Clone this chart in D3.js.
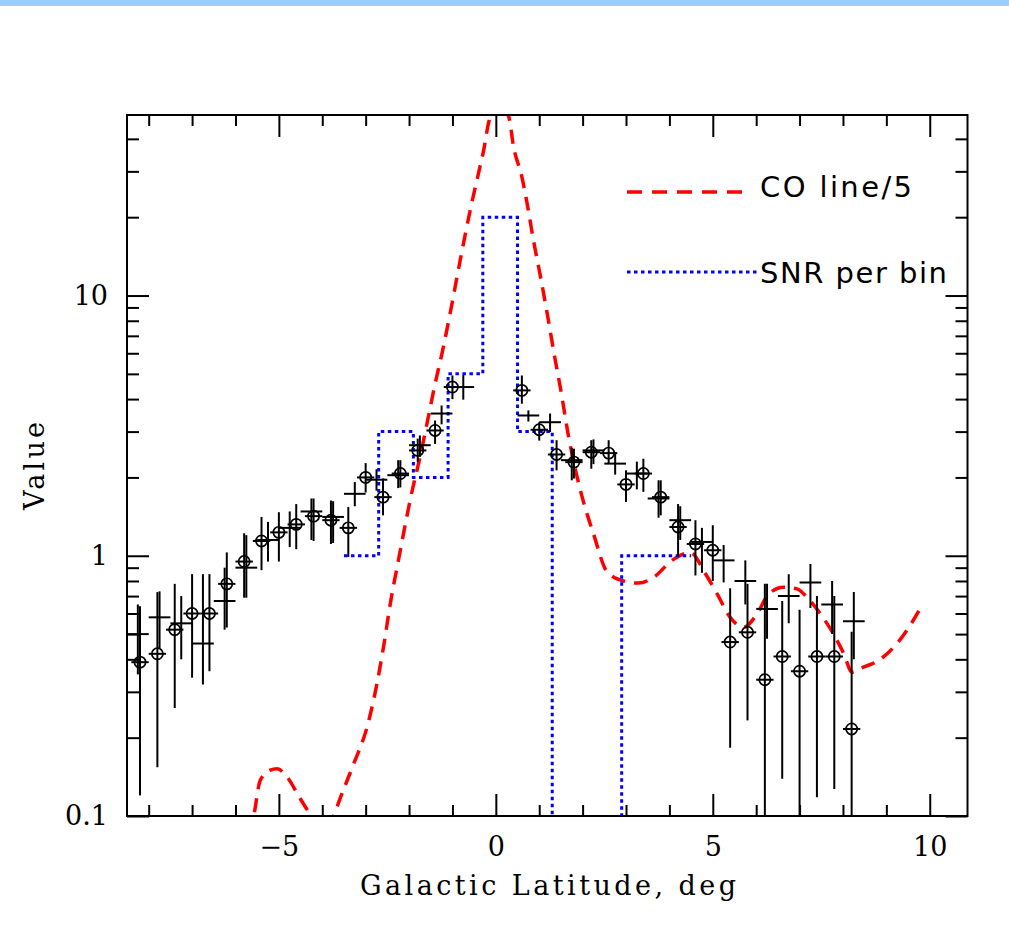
<!DOCTYPE html>
<html>
<head>
<meta charset="utf-8">
<script src="https://cdn.jsdelivr.net/npm/d3@7"></script>
<style>
  html, body { margin: 0; padding: 0; background: #fff; }
  svg { display: block; }
</style>
</head>
<body>
<svg id="chart" width="1009" height="938"></svg>
<script>
// Profile across Galactic latitude (deg)

// Binned profile, 0.4 deg bins (circled points)
const circleLat = [-8.2, -7.8, -7.4, -7.0, -6.6, -6.2, -5.8, -5.4, -5.0, -4.6, -4.2, -3.8, -3.4, -3.0, -2.6, -2.2, -1.8, -1.4, -1.0,
  0.6, 1.0, 1.4, 1.8, 2.2, 2.6, 3.0, 3.4, 3.8, 4.2, 4.6, 5.0, 5.4, 5.8, 6.2, 6.6, 7.0, 7.4, 7.8, 8.2];
const circleVal = [0.39, 0.42, 0.52, 0.60, 0.60, 0.78, 0.95, 1.14, 1.23, 1.32, 1.42, 1.37, 1.28, 2.0, 1.68, 2.07, 2.54, 3.03, 4.45,
  4.32, 3.05, 2.45, 2.29, 2.50, 2.48, 1.88, 2.07, 1.68, 1.29, 1.11, 1.05, 0.466, 0.508, 0.334, 0.41, 0.36, 0.41, 0.41, 0.216];
const circleLo = [0.12, 0.154, 0.26, 0.34, 0.36, 0.53, 0.69, 0.88, 0.95, 1.06, 1.14, 1.11, 0.99, 1.75, 1.43, 1.83, 2.29, 2.69, 4.0,
  3.84, 2.77, 2.13, 1.98, 2.16, 2.26, 1.61, 1.76, 1.43, 1.0, 0.84, 0.80, 0.183, 0.233, 0.05, 0.139, 0.05, 0.118, 0.127, 0.05];
const circleHi = [0.64, 0.725, 0.78, 0.85, 0.85, 1.03, 1.22, 1.41, 1.47, 1.58, 1.66, 1.63, 1.54, 2.27, 1.98, 2.33, 2.82, 3.31, 4.93,
  4.93, 3.26, 2.78, 2.58, 2.78, 2.78, 2.13, 2.36, 1.95, 1.58, 1.37, 1.31, 0.75, 0.78, 0.78, 0.67, 0.62, 0.70, 0.70, 0.51];
const circleBin = 0.4;

// Binned profile, 0.5 deg bins (crosses)
const crossLat = [-8.25, -7.75, -7.25, -6.75, -6.25, -5.75, -5.25, -4.75, -4.25, -3.75, -3.25, -2.75, -2.25, -1.75, -1.25, -0.75,
  0.75, 1.25, 1.75, 2.25, 2.75, 3.25, 3.75, 4.25, 4.75, 5.25, 5.75, 6.25, 6.75, 7.25, 7.75, 8.25];
const crossVal = [0.50, 0.58, 0.55, 0.46, 0.67, 0.90, 1.15, 1.28, 1.48, 1.41, 1.73, 1.96, 2.04, 2.66, 3.52, 4.45,
  3.46, 3.26, 2.33, 2.54, 2.26, 2.07, 1.66, 1.37, 1.13, 0.96, 0.80, 0.625, 0.70, 0.79, 0.65, 0.56];
const crossLo = [0.35, 0.44, 0.40, 0.32, 0.52, 0.69, 0.95, 1.08, 1.15, 1.12, 1.55, 1.78, 1.82, 2.40, 3.20, 3.98,
  3.28, 2.99, 1.95, 2.25, 2.05, 1.80, 1.40, 1.15, 0.86, 0.79, 0.65, 0.48, 0.55, 0.63, 0.50, 0.40];
const crossHi = [0.65, 0.73, 0.70, 0.85, 0.90, 1.20, 1.35, 1.48, 1.66, 1.62, 1.92, 2.15, 2.33, 2.90, 3.78, 4.95,
  3.62, 3.52, 2.60, 2.80, 2.50, 2.30, 1.95, 1.55, 1.28, 1.10, 0.96, 0.78, 0.85, 0.93, 0.80, 0.725];
const crossBin = 0.5;

// CO line profile divided by 5
const coLat = [-5.7, -5.58, -5.43, -5.2, -5.04, -4.81, -4.5, -4.27, -4.0, -3.74, -3.58, -3.28, -2.97, -2.74, -2.59, -2.42, -2.23,
  -1.96, -1.73, -1.54, -1.41, -1.24, -1.05, -0.82, -0.59, -0.40, -0.28, -0.17, 0.07, 0.30, 0.41, 0.60, 0.72, 0.87, 1.03, 1.18,
  1.37, 1.49, 1.68, 1.99, 2.25, 2.56, 2.94, 3.29, 3.64, 4.06, 4.48, 4.83, 5.10, 5.40, 5.71, 6.02, 6.29, 6.63, 6.94, 7.17, 7.48,
  7.78, 8.02, 8.21, 8.47, 8.82, 9.24, 9.47, 9.82];
const coVal = [0.085, 0.1, 0.137, 0.15, 0.152, 0.141, 0.116, 0.101, 0.088, 0.1, 0.118, 0.158, 0.219, 0.322, 0.445, 0.673, 0.99,
  1.68, 2.47, 3.52, 4.5, 6.0, 8.6, 13.7, 21.3, 29.5, 36.2, 45.9, 56, 48.5, 37.2, 28.6, 22.6, 16.2, 11.8, 8.6,
  5.64, 4.4, 2.85, 1.68, 1.215, 0.87, 0.8, 0.785, 0.827, 0.96, 1.03, 0.853, 0.714, 0.58, 0.531, 0.598, 0.714, 0.757, 0.746, 0.693, 0.598,
  0.501, 0.42, 0.357, 0.373, 0.396, 0.459, 0.516, 0.644];

// Signal-to-noise per 0.8 deg bin
const snrEdges = [-3.5, -2.7, -1.9, -1.1, -0.3, 0.5, 1.3, 2.1, 2.9, 3.7, 4.5];
const snrVal = [1, 3, 2, 5, 20, 3, 0, 0, 1, 1];

// Axis ticks
const xMajorTicks = [-5, 0, 5, 10];
const xMajorLabels = ["\u22125", "0", "5", "10"];
const xMinorTicks = [-8, -7, -6, -4, -3, -2, -1, 1, 2, 3, 4, 6, 7, 8, 9];
const yMajorTicks = [0.1, 1, 10];
const yMajorLabels = ["0.1", "1", "10"];
const yMinorTicks = [0.2, 0.3, 0.4, 0.5, 0.6, 0.7, 0.8, 0.9, 2, 3, 4, 5, 6, 7, 8, 9, 20, 30, 40];

const legendLabels = ["CO line/5", "SNR per bin"];
const xTitle = "Galactic Latitude, deg";
const yTitle = "Value";

// ---------------------------------------------------------------
const svg = d3.select("#chart");
const W = 1009, H = 938;
const plot = { left: 127, right: 967.5, top: 115, bottom: 816 };

svg.append("rect").attr("x", 0).attr("y", 0).attr("width", W).attr("height", H).attr("fill", "#ffffff");
svg.append("rect").attr("x", 0).attr("y", 0).attr("width", W).attr("height", 6).attr("fill", "#a2cdfb");

const x = d3.scaleLinear().domain([-8.5, 10.87]).range([plot.left, plot.right]);
const y = d3.scaleLog().domain([0.1, 49.4]).range([plot.bottom, plot.top]);
const yc = v => (v > 0 ? y(v) : plot.bottom + 5);

svg.append("defs").append("clipPath").attr("id", "plotClip")
  .append("rect")
  .attr("x", plot.left).attr("y", plot.top)
  .attr("width", plot.right - plot.left).attr("height", plot.bottom - plot.top);

const g = svg.append("g").attr("clip-path", "url(#plotClip)");

// CO line
const coLine = d3.line()
  .x(d => x(d[0]))
  .y(d => y(d[1]))
  .curve(d3.curveMonotoneX);
g.append("path")
  .datum(coLat.map((v, i) => [v, coVal[i]]))
  .attr("d", coLine)
  .attr("fill", "none")
  .attr("stroke", "#ff0000")
  .attr("stroke-width", 3.5)
  .attr("stroke-dasharray", "14,9");

// SNR step line
const snrPts = snrVal.map((v, i) => [snrEdges[i], v]);
snrPts.push([snrEdges[snrEdges.length - 1], snrVal[snrVal.length - 1]]);
const stepLine = d3.line()
  .x(d => x(d[0]))
  .y(d => yc(d[1]))
  .curve(d3.curveStepAfter);
g.append("path")
  .datum(snrPts)
  .attr("d", stepLine)
  .attr("fill", "none")
  .attr("stroke", "#0000ff")
  .attr("stroke-width", 3)
  .attr("stroke-dasharray", "3.5,3.5");

// crosses: bin width + vertical error bar
const crosses = g.append("g").attr("stroke", "#000").attr("stroke-width", 2);
crossLat.forEach((c, i) => {
  crosses.append("line")
    .attr("x1", x(c - crossBin / 2)).attr("x2", x(c + crossBin / 2))
    .attr("y1", y(crossVal[i])).attr("y2", y(crossVal[i]));
  crosses.append("line")
    .attr("x1", x(c)).attr("x2", x(c))
    .attr("y1", yc(crossLo[i])).attr("y2", y(crossHi[i]));
});

// circled points with bin width and error bars
const circles = g.append("g").attr("stroke", "#000").attr("stroke-width", 2).attr("fill", "none");
circleLat.forEach((c, i) => {
  circles.append("line")
    .attr("x1", x(c - circleBin / 2)).attr("x2", x(c + circleBin / 2))
    .attr("y1", y(circleVal[i])).attr("y2", y(circleVal[i]));
  circles.append("line")
    .attr("x1", x(c)).attr("x2", x(c))
    .attr("y1", yc(circleLo[i])).attr("y2", y(circleHi[i]));
  circles.append("circle")
    .attr("cx", x(c)).attr("cy", y(circleVal[i]))
    .attr("r", 5.6)
    .attr("stroke-width", 1.7);
});

// Axes: ticks point inward on all four sides
const tickFont = "'DejaVu Serif', 'Liberation Serif', serif";
function styleAxis(sel) {
  sel.select(".domain").remove();
  sel.selectAll(".tick line").attr("stroke", "#000").attr("stroke-width", 2);
  sel.selectAll(".tick text")
    .attr("fill", "#000")
    .style("font-family", tickFont)
    .style("font-size", "27px");
}

const xMajorFmt = (d, i) => xMajorLabels[i];
const yMajorFmt = (d, i) => yMajorLabels[i];

svg.append("g").attr("transform", `translate(0,${plot.bottom})`)
  .call(d3.axisBottom(x).tickValues(xMajorTicks).tickSize(-22).tickPadding(21).tickFormat(xMajorFmt))
  .call(styleAxis);
svg.append("g").attr("transform", `translate(0,${plot.bottom})`)
  .call(d3.axisBottom(x).tickValues(xMinorTicks).tickSize(-11).tickFormat(""))
  .call(styleAxis);
svg.append("g").attr("transform", `translate(0,${plot.top})`)
  .call(d3.axisTop(x).tickValues(xMajorTicks).tickSize(-22).tickFormat(""))
  .call(styleAxis);
svg.append("g").attr("transform", `translate(0,${plot.top})`)
  .call(d3.axisTop(x).tickValues(xMinorTicks).tickSize(-11).tickFormat(""))
  .call(styleAxis);

svg.append("g").attr("transform", `translate(${plot.left},0)`)
  .call(d3.axisLeft(y).tickValues(yMajorTicks).tickSize(-22).tickPadding(19).tickFormat(yMajorFmt))
  .call(styleAxis);
svg.append("g").attr("transform", `translate(${plot.left},0)`)
  .call(d3.axisLeft(y).tickValues(yMinorTicks).tickSize(-12).tickFormat(""))
  .call(styleAxis);
svg.append("g").attr("transform", `translate(${plot.right},0)`)
  .call(d3.axisRight(y).tickValues(yMajorTicks).tickSize(-22).tickFormat(""))
  .call(styleAxis);
svg.append("g").attr("transform", `translate(${plot.right},0)`)
  .call(d3.axisRight(y).tickValues(yMinorTicks).tickSize(-12).tickFormat(""))
  .call(styleAxis);

// frame
svg.append("rect")
  .attr("x", plot.left).attr("y", plot.top)
  .attr("width", plot.right - plot.left).attr("height", plot.bottom - plot.top)
  .attr("fill", "none").attr("stroke", "#000").attr("stroke-width", 2);

// axis titles
svg.append("text")
  .attr("x", 548).attr("y", 895)
  .attr("text-anchor", "middle")
  .attr("textLength", 376).attr("lengthAdjust", "spacing")
  .style("font-family", tickFont).style("font-size", "27px")
  .attr("fill", "#000")
  .text(xTitle);

svg.append("text")
  .attr("transform", "translate(44,466) rotate(-90)")
  .attr("text-anchor", "middle")
  .attr("textLength", 88).attr("lengthAdjust", "spacing")
  .style("font-family", tickFont).style("font-size", "27px")
  .attr("fill", "#000")
  .text(yTitle);

// legend
const legendFont = "'DejaVu Sans', 'Liberation Sans', sans-serif";
const legend = svg.append("g");
legend.append("line")
  .attr("x1", 627).attr("x2", 751).attr("y1", 192).attr("y2", 192)
  .attr("stroke", "#ff0000").attr("stroke-width", 3.5).attr("stroke-dasharray", "15,10");
legend.append("text")
  .attr("x", 760).attr("y", 197)
  .attr("textLength", 152).attr("lengthAdjust", "spacing")
  .style("font-family", legendFont).style("font-size", "29px")
  .attr("fill", "#000")
  .text(legendLabels[0]);
legend.append("line")
  .attr("x1", 627).attr("x2", 757).attr("y1", 272).attr("y2", 272)
  .attr("stroke", "#0000ff").attr("stroke-width", 3).attr("stroke-dasharray", "3.5,3.5");
legend.append("text")
  .attr("x", 760).attr("y", 283)
  .attr("textLength", 187).attr("lengthAdjust", "spacing")
  .style("font-family", legendFont).style("font-size", "29px")
  .attr("fill", "#000")
  .text(legendLabels[1]);
</script>
</body>
</html>
